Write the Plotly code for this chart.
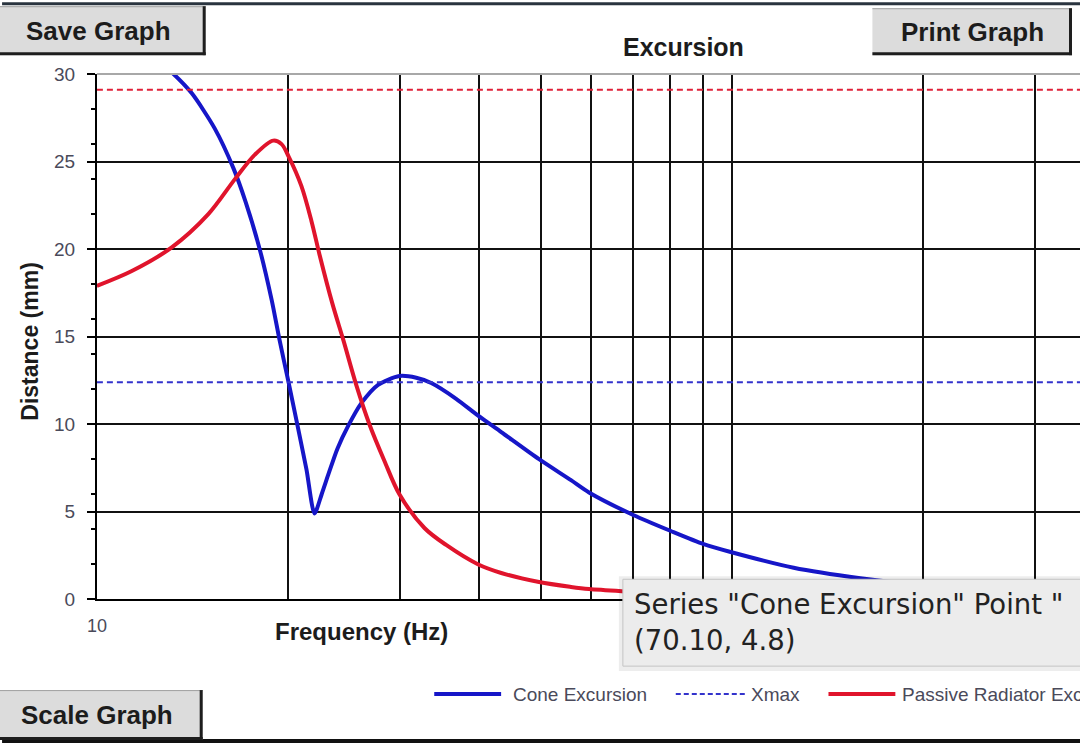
import plotly.graph_objects as go

# ---------------- data ----------------
cone_freq = [10, 11.35, 13.12, 14.11, 15.33, 16.42, 17.15, 18.05, 18.85, 19.40, 20.04,
             20.71, 21.39, 22.02, 22.60, 23.14, 23.93, 24.88, 26.10, 27.73, 29.96, 31.85,
             33.63, 36.81, 39.82, 43.35, 49.72, 55.83, 59.60, 70.10, 80.19, 90.36, 99.64,
             125.2, 159.5, 200, 250, 300, 354]
cone_mm = [33.6, 32.0, 30.1, 28.9, 26.9, 24.6, 22.7, 20.0, 17.1, 14.8, 12.4,
           9.9, 7.4, 4.9, 6.0, 7.1, 8.6, 9.9, 11.2, 12.25, 12.75, 12.65,
           12.35, 11.45, 10.5, 9.55, 8.0, 6.8, 6.1, 4.8, 3.9, 3.15, 2.7,
           1.8, 1.2, 0.8, 0.55, 0.4, 0.3]

pr_freq = [10, 11.35, 13.12, 14.98, 16.50, 17.74, 18.96, 19.54, 20.04, 21.0, 21.78,
           22.42, 23.49, 24.45, 25.64, 26.87, 28.38, 29.96, 32.81, 35.50, 39.82, 43.35,
           49.72, 55.83, 59.60, 70.17, 80, 100, 150, 200, 354]
pr_mm = [17.9, 18.75, 20.1, 22.0, 24.0, 25.4, 26.2, 26.0, 25.3, 23.6, 21.6,
         19.7, 16.9, 14.8, 12.2, 10.0, 7.9, 6.0, 4.07, 3.1, 2.0, 1.5,
         0.98, 0.7, 0.58, 0.42, 0.3, 0.19, 0.08, 0.045, 0.015]

xmax_freq = [10, 354]
cone_xmax_mm = 12.4
pr_xmax_mm = 29.1

series_names = ["Cone Excursion", "Xmax", "Passive Radiator Excursion", "Passive Radiator Xmax"]

x_grid = [10, 20, 30, 40, 50, 60, 70, 80, 90, 100, 200, 300]
x_labels = ["10"] + [""] * (len(x_grid) - 1)
y_ticks = [0, 5, 10, 15, 20, 25, 30]
y_minor = [2, 4, 6, 8, 12, 14, 16, 18, 22, 24, 26, 28]

tooltip_lines = ['Series "Cone Excursion" Point "', '(70.10, 4.8)']

# ---------------- geometry ----------------
# target positions are given in reference-image pixels; they are mapped onto the
# page as it is actually rendered (viewport a bit larger than the picture, 8px body margin)
REF_W, REF_H = 1080, 743
VIEW_W, VIEW_H = 1088, 763
BODY_MARGIN = 8
W, H = VIEW_W - BODY_MARGIN, VIEW_H - BODY_MARGIN
SX, SY = VIEW_W / REF_W, VIEW_H / REF_H

def px(x):
    return (x * SX - BODY_MARGIN) / W

def py(y):
    return 1 - (y * SY - BODY_MARGIN) / H

PL, PR, PT, PB = 95, 1080, 72, 598
DECADE_PX = 636.0
x_hi = 1 + (PR - PL) / DECADE_PX

BLUE = "#1616c8"
RED = "#e0142c"
FONT = "Liberation Sans, Arial, sans-serif"
TIP_FONT = "DejaVu Sans, sans-serif"

fig = go.Figure()
fig.add_trace(go.Scatter(x=cone_freq, y=cone_mm, mode="lines", name=series_names[0],
                         line=dict(color=BLUE, width=4, shape="spline", smoothing=0.7)))
fig.add_trace(go.Scatter(x=xmax_freq, y=[cone_xmax_mm] * len(xmax_freq), mode="lines",
                         name=series_names[1], line=dict(color="#3333cc", width=2, dash="6px,4px")))
fig.add_trace(go.Scatter(x=pr_freq, y=pr_mm, mode="lines", name=series_names[2],
                         line=dict(color=RED, width=4, shape="spline", smoothing=0.9)))
fig.add_trace(go.Scatter(x=xmax_freq, y=[pr_xmax_mm] * len(xmax_freq), mode="lines",
                         name=series_names[3], line=dict(color="#e02038", width=2, dash="6px,4px")))

shapes = []
annotations = []

def rect(x0, y0, x1, y1, fill, line_color=None, lw=0, layer="above"):
    shapes.append(dict(type="rect", xref="paper", yref="paper", x0=px(x0), x1=px(x1),
                       y0=py(y1), y1=py(y0), fillcolor=fill, layer=layer,
                       line=dict(color=line_color or fill, width=lw)))

def hline(x0, x1, y, color, width, dash=None):
    ln = dict(color=color, width=width)
    if dash:
        ln["dash"] = dash
    shapes.append(dict(type="line", xref="paper", yref="paper", x0=px(x0), x1=px(x1),
                       y0=py(y), y1=py(y), line=ln, layer="above"))

def vline(x, y0, y1, color, width):
    shapes.append(dict(type="line", xref="paper", yref="paper", x0=px(x), x1=px(x),
                       y0=py(y0), y1=py(y1), line=dict(color=color, width=width), layer="above"))

def text(x, y, s, size, color="#222", bold=False, xanchor="center", angle=0, family=FONT):
    annotations.append(dict(xref="paper", yref="paper", x=px(x), y=py(y),
                            text=f"<b>{s}</b>" if bold else s, showarrow=False,
                            xanchor=xanchor, yanchor="middle", textangle=angle,
                            font=dict(family=family, size=size, color=color)))

# frame top line (gray)
hline(PL, PR, PT, "#a8a8a8", 2)

# window strips
rect(0, 0, REF_W, 3, "#2a343f")
rect(0, 738, REF_W, REF_H + 10, "#111111")

# buttons
def button(x0, y0, x1, y1, label):
    rect(x0, y0, x1, y1, "#dcdcdc")
    hline(x0, x1, y0 + 0.5, "#a0a0a0", 1)
    vline(x1 - 1.5, y0, y1, "#1e1e1e", 3)
    hline(x0, x1, y1 - 1.5, "#1e1e1e", 3)
    text((x0 + x1) / 2, (y0 + y1) / 2, label, 26, "#1c1c1c", bold=True)

button(-10, 4, 204, 53, "Save Graph")
button(872, 6, 1072, 53, "Print Graph")
button(-10, 689, 201, 739, "Scale Graph")

# titles
text(683, 45, "Excursion", 25, "#1c1c1c", bold=True)
text(360, 630, "Frequency (Hz)", 24, "#1c1c1c", bold=True)
text(28, 340, "Distance (mm)", 23, "#1c1c1c", bold=True, angle=-90)

# legend (manual, clipped at the right edge like the reference)
LEG_Y = 693
hline(433, 500, LEG_Y, BLUE, 4)
text(510, LEG_Y, series_names[0], 19, "#4a4a5a", xanchor="left")
hline(675, 745, LEG_Y, "#3333cc", 2, dash="5px,3px")
text(748, LEG_Y, series_names[1], 19, "#4a4a5a", xanchor="left")
hline(828, 895, LEG_Y, RED, 4)
text(900, LEG_Y, series_names[2], 19, "#4a4a5a", xanchor="left")

# tooltip
rect(618, 575, 1100, 670, "rgba(0,0,0,0.07)")
rect(622, 578, 1100, 665, "#ececec", "#c4c4c4", 1)
text(631, 603, tooltip_lines[0], 27.5, "#222222", xanchor="left", family=TIP_FONT)
text(631, 639, tooltip_lines[1], 27.5, "#222222", xanchor="left", family=TIP_FONT)

fig.update_layout(
    width=W, height=H,
    margin=dict(l=0, r=0, t=0, b=0),
    paper_bgcolor="white", plot_bgcolor="white",
    showlegend=False,
    shapes=shapes, annotations=annotations,
    font=dict(family=FONT),
    xaxis=dict(type="log", range=[1, x_hi], domain=[px(PL), px(PR)],
               tickvals=x_grid, ticktext=x_labels, ticks="",
               tickfont=dict(size=18, color="#4a4a5a"), ticklabelstandoff=9,
               showgrid=True, gridcolor="#111111", gridwidth=2,
               showline=True, linecolor="#000000", linewidth=2, zeroline=False),
    yaxis=dict(range=[0, 30], domain=[py(PB), py(PT)],
               tickvals=y_ticks, ticks="outside", ticklen=8, tickwidth=2, tickcolor="#000",
               minor=dict(tickvals=y_minor, ticks="outside", ticklen=4, tickwidth=2,
                          tickcolor="#000", showgrid=False),
               tickfont=dict(size=19, color="#4a4a5a"), ticklabelstandoff=8,
               showgrid=True, gridcolor="#111111", gridwidth=2,
               showline=True, linecolor="#000000", linewidth=2, zeroline=False),
)

fig.write_html("out.html")
